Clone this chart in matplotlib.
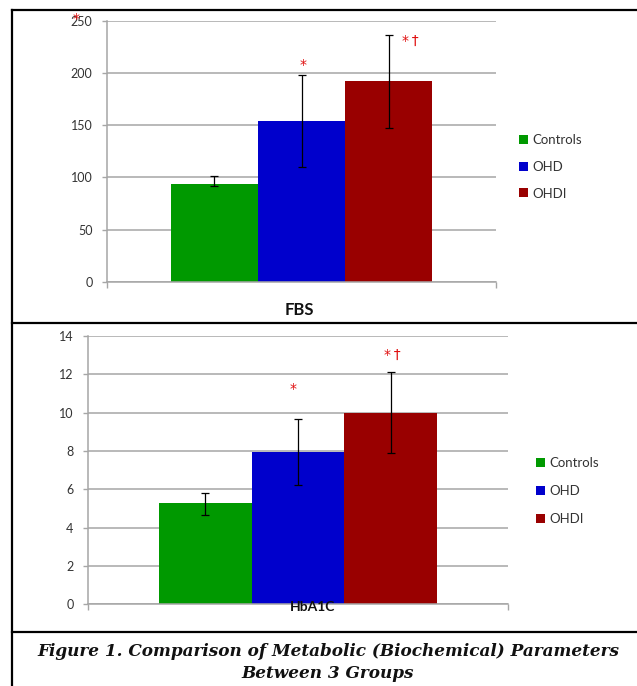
import matplotlib
matplotlib.use("Agg")
import matplotlib.pyplot as plt
from matplotlib.lines import Line2D
import numpy as np

W, H = 637, 686
DPI = 100

groups = ["Controls", "OHD", "OHDI"]
colors = ["#009900", "#0000CC", "#990000"]

fbs_mean = [93.5, 154, 192]
fbs_err_lo = [1.6, 44, 45]
fbs_err_hi = [8.2, 44, 44.5]
fbs_ticks = [0, 50, 100, 150, 200, 250]

hba_mean = [5.27, 7.95, 10.0]
hba_err_lo = [0.6, 1.7, 2.1]
hba_err_hi = [0.55, 1.7, 2.1]
hba_ticks = [0, 2, 4, 6, 8, 10, 12, 14]

GRID = "#A6A6A6"
TXT = "#333333"
STAR = "#E01010"
SANS = "Lato"

fig = plt.figure(figsize=(W / DPI, H / DPI), dpi=DPI)
fig.patch.set_facecolor("white")


def px_axes(left, right, top, bottom):
    return fig.add_axes([left / W, 1 - bottom / H, (right - left) / W, (bottom - top) / H])


def panel(ax, means, lo, hi, ticks, bw):
    xs = np.array([-bw, 0, bw])
    bars = ax.bar(xs, means, width=bw, color=colors, zorder=2, linewidth=0)
    ax.errorbar(xs, means, yerr=[lo, hi], fmt="none", ecolor="black",
                elinewidth=0.9, capsize=3, capthick=0.9, zorder=3)
    ax.set_xlim(-0.5, 0.5)
    ax.set_ylim(ticks[0], ticks[-1])
    ax.set_yticks(ticks)
    ax.set_xticks([-0.5, 0.5])
    ax.set_xticklabels([])
    ax.yaxis.grid(True, color=GRID, linewidth=1.1, zorder=0)
    ax.set_axisbelow(True)
    for s in ["top", "right"]:
        ax.spines[s].set_visible(False)
    for s in ["left", "bottom"]:
        ax.spines[s].set_color(GRID)
        ax.spines[s].set_linewidth(1.1)
    ax.tick_params(axis="y", direction="out", length=3.5, width=1, color=GRID,
                   pad=7, labelsize=9, labelcolor=TXT)
    ax.tick_params(axis="x", direction="out", length=4.5, width=1, color=GRID)
    for lab in ax.get_yticklabels():
        lab.set_fontfamily(SANS)
    return bars


def star(ax, x, y, s):
    ax.text(x, y, s, color=STAR, fontsize=10, ha="center", va="baseline",
            family="DejaVu Sans", clip_on=False, zorder=6)


leg_kw = dict(bbox_transform=fig.transFigure, frameon=False, borderpad=0, borderaxespad=0,
              handlelength=0.65, handleheight=0.65, handletextpad=0.35,
              prop={"family": SANS, "size": 9.5}, labelcolor=TXT, loc="center left")

# top panel (FBS)
ax1 = px_axes(107, 496, 20.7, 282)
b1 = panel(ax1, fbs_mean, fbs_err_lo, fbs_err_hi, fbs_ticks, 0.2237)
star(ax1, 0.004, 204, "*")
star(ax1, 0.279, 226.5, "*\u2009\u2020")
star(ax1, -0.58, 248, "*")
fig.text(299 / W, 1 - 310 / H, "FBS", ha="center", va="center", fontsize=12,
         fontweight="bold", family=SANS, color="#111111")
ax1.legend(b1, groups, bbox_to_anchor=(519 / W, 1 - 167 / H), labelspacing=1.1, **leg_kw)

# bottom panel (HbA1C)
ax2 = px_axes(88, 508, 336, 604.3)
b2 = panel(ax2, hba_mean, hba_err_lo, hba_err_hi, hba_ticks, 0.2207)
star(ax2, -0.012, 11.05, "*")
star(ax2, 0.224, 12.78, "*\u2009\u2020")
fig.text(313 / W, 1 - 607 / H, "HbA1C", ha="center", va="center", fontsize=10,
         fontweight="bold", family=SANS, color="#111111", zorder=5)
ax2.legend(b2, groups, bbox_to_anchor=(536 / W, 1 - 491 / H), labelspacing=1.2, **leg_kw)


# frame lines
def hline(y, x0=12, x1=W):
    fig.add_artist(Line2D([x0 / W, x1 / W], [1 - y / H, 1 - y / H], color="black",
                          linewidth=1.6, transform=fig.transFigure))


hline(10)
hline(323.5)
hline(632)
fig.add_artist(Line2D([12 / W, 12 / W], [1 - 10 / H, 0], color="black", linewidth=1.6,
                      transform=fig.transFigure))

# caption
cap_kw = dict(ha="center", va="center", fontsize=12.2, fontweight="bold", fontstyle="italic",
              family="DejaVu Serif", color="#111111")
fig.text(328 / W, 1 - 651 / H, "Figure 1. Comparison of Metabolic (Biochemical) Parameters", **cap_kw)
fig.text(328 / W, 1 - 674 / H, "Between 3 Groups", **cap_kw)

fig.savefig("out.png", dpi=DPI, facecolor="white")
